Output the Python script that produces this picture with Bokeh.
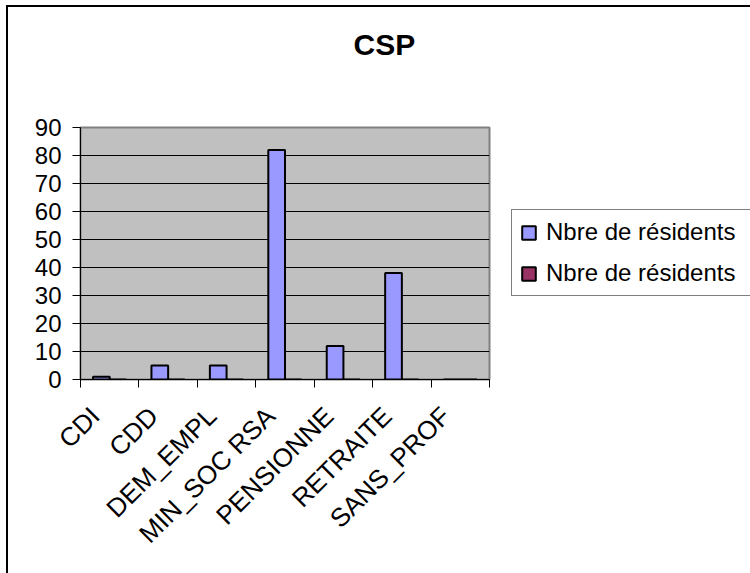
import math
from bokeh.plotting import figure
from bokeh.models import FixedTicker, Legend, LegendItem, Range1d, Title
from bokeh.embed import file_html
from bokeh.resources import INLINE

# ---- data ----
categories = ["CDI", "CDD", "DEM_EMPL", "MIN_SOC RSA", "PENSIONNE", "RETRAITE", "SANS_PROF"]
series_1 = [1, 5, 5, 82, 12, 38, 0]
series_2 = [0, 0, 0, 0, 0, 0, 0]
series_names = ["Nbre de résidents", "Nbre de résidents"]
y_ticks = [0, 10, 20, 30, 40, 50, 60, 70, 80, 90]
title_text = "CSP"

FONT = "Liberation Sans"
n = len(categories)
bar_w = 1 / 3.5
centers = [i + 0.5 for i in range(n)]
x1 = [c - bar_w / 2 for c in centers]
x2 = [c + bar_w / 2 for c in centers]
label_pos = [c - 0.25 for c in centers]   # rotated labels sit slightly left of the slot centre

p = figure(title=None, frame_width=409, frame_height=252, output_backend="svg", toolbar_location=None,
           x_range=Range1d(0, n), y_range=Range1d(0, 90),
           min_border_left=80, min_border_right=261, min_border_top=127, min_border_bottom=194)
p.background_fill_color = "#c0c0c0"
p.border_fill_color = None
p.outline_line_color = "#808080"
p.outline_line_width = 2
p.styles = {"box-shadow": "inset 6px 5px 0 0 white, inset 8px 7px 0 0 black",
            "background-color": "white"}

r1 = p.vbar(x=x1, top=series_1, width=bar_w, fill_color="#9999ff", line_color="black", line_width=2)
r2 = p.vbar(x=x2, top=series_2, width=bar_w, fill_color="#993366", line_color="black", line_width=2)

# axes
p.xgrid.visible = False
p.ygrid.grid_line_color = "black"
p.ygrid.grid_line_width = 1
p.yaxis.ticker = FixedTicker(ticks=y_ticks)
p.yaxis.axis_line_color = "black"
p.yaxis.major_tick_line_color = "black"
p.yaxis.major_tick_in = 0
p.yaxis.major_tick_out = 8
p.yaxis.minor_tick_line_color = None
p.yaxis.major_label_text_font = FONT
p.yaxis.major_label_text_font_size = "24px"
p.yaxis.major_label_text_color = "black"
p.yaxis.major_label_standoff = 11

p.xaxis.ticker = FixedTicker(ticks=label_pos, minor_ticks=list(range(n + 1)))
p.xaxis.major_label_overrides = {c: lab for c, lab in zip(label_pos, categories)}
p.xaxis.major_tick_line_color = None
p.xaxis.minor_tick_line_color = "black"
p.xaxis.minor_tick_in = 0
p.xaxis.minor_tick_out = 8
p.xaxis.axis_line_color = "black"
p.xaxis.major_label_orientation = math.pi / 4
p.xaxis.major_label_text_font = FONT
p.xaxis.major_label_text_font_size = "26px"
p.xaxis.major_label_text_color = "black"
p.xaxis.major_label_standoff = 24

# title: an empty spacer next to the frame, then the real title above it
spacer = Title(text=" ", text_font_size="1px", standoff=55)
p.add_layout(spacer, "above")
main_title = Title(text=title_text, align="left", offset=273, standoff=17,
                   text_font=FONT, text_font_size="30px", text_font_style="bold", text_color="black")
p.add_layout(main_title, "above")

legend = Legend(items=[LegendItem(label=series_names[0], renderers=[r1]),
                       LegendItem(label=series_names[1], renderers=[r2])],
                location=(22, 83))
legend.label_text_font = FONT
legend.label_text_font_size = "24px"
legend.label_text_color = "black"
legend.glyph_width = 17
legend.glyph_height = 17
legend.label_height = 24
legend.label_width = 197
legend.spacing = 13
legend.padding = 8
legend.margin = 0
legend.label_standoff = 9
legend.border_line_color = "black"
legend.border_line_width = 1
legend.background_fill_color = "white"
legend.background_fill_alpha = 1
p.add_layout(legend, "right")

open("out.html", "w").write(file_html(p, INLINE))
